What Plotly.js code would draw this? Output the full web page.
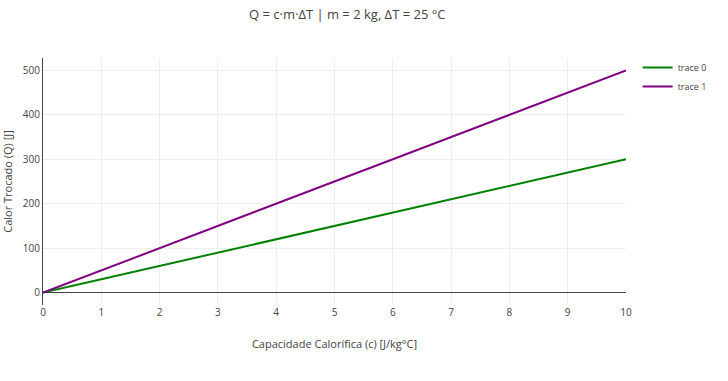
<!DOCTYPE html>
<html>
<head>
<meta charset="utf-8">
<script src="https://cdn.plot.ly/plotly-3.0.1.min.js"></script>
<style>html,body{margin:0;padding:0;background:#fff;}</style>
</head>
<body>
<div id="chart" style="width:728px;height:381px;"></div>
<script>
const cValues = [0, 1, 2, 3, 4, 5, 6, 7, 8, 9, 10];
const q0Values = [0, 30, 60, 90, 120, 150, 180, 210, 240, 270, 300];
const q1Values = [0, 50, 100, 150, 200, 250, 300, 350, 400, 450, 500];
const traceNames = ['trace 0', 'trace 1'];
const traceColors = ['green', 'purple'];

const data = [
  {x: cValues, y: q0Values, type: 'scatter', mode: 'lines', name: traceNames[0], line: {color: traceColors[0], width: 2}},
  {x: cValues, y: q1Values, type: 'scatter', mode: 'lines', name: traceNames[1], line: {color: traceColors[1], width: 2}}
];

const layout = {
  width: 728, height: 381,
  font: {family: '"Open Sans", sans-serif', color: '#444', size: 10},
  title: {text: 'Q = c·m·ΔT | m = 2 kg, ΔT = 25 °C', font: {size: 13}, x: 0.477, xanchor: 'center', y: 0.963, yanchor: 'middle'},
  margin: {l: 43, r: 102, t: 58, b: 76},
  paper_bgcolor: '#fff', plot_bgcolor: '#fff',
  xaxis: {
    title: {text: 'Capacidade Calorífica (c) [J/kg°C]', font: {size: 11}},
    gridcolor: '#eee', zeroline: false, showline: false, dtick: 1, ticks: ''
  },
  yaxis: {
    title: {text: 'Calor Trocado (Q) [J]', font: {size: 11}, standoff: 12},
    gridcolor: '#eee', zeroline: true, zerolinecolor: '#444', zerolinewidth: 1,
    showline: true, linecolor: '#444', linewidth: 1, dtick: 100, ticks: ''
  },
  legend: {x: 1.02, y: 1.02, font: {size: 9}, tracegroupgap: 0}
};

Plotly.newPlot('chart', data, layout, {displayModeBar: false});
</script>
</body>
</html>
